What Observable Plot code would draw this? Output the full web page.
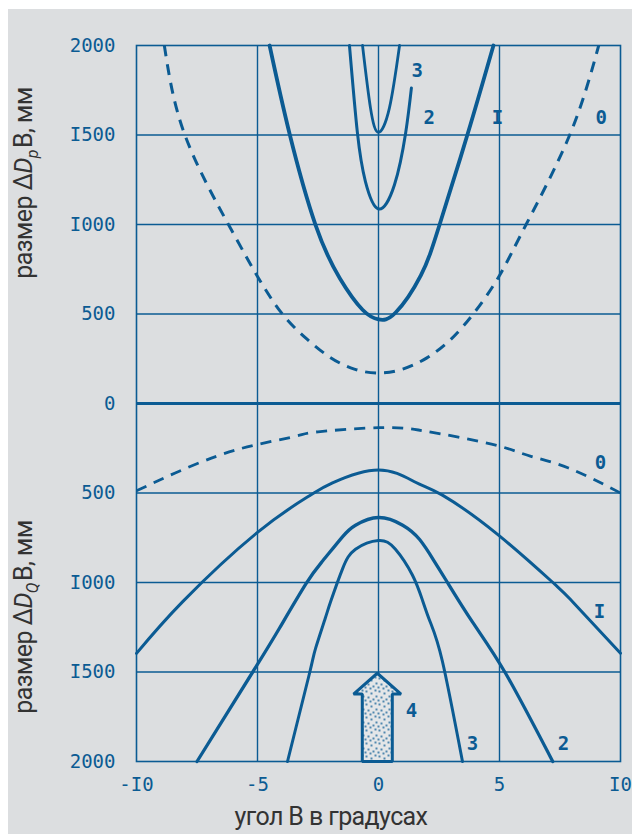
<!DOCTYPE html>
<html><head><meta charset="utf-8">
<script src="https://cdn.jsdelivr.net/npm/d3@7"></script>
<script src="https://cdn.jsdelivr.net/npm/@observablehq/plot@0.6"></script>
<style>
html,body{margin:0;padding:0;background:#fff;}
#chart{position:absolute;left:0;top:0;width:632px;height:834px;}
</style></head><body><div id="chart"></div>
<script>
// ---- ticks ----
const xTicks = [-10, -5, 0, 5, 10];
const yTicks = [-2000, -1500, -1000, -500, 0, 500, 1000, 1500, 2000];
const gridXVals = [-5, 0, 5];
const gridYVals = [-1500, -1000, -500, 500, 1000, 1500];

// ---- upper half: ΔDp (positive up) ----
const top0 = [[-8.85,2000],[-8,1500],[-6.2,1000],[-5,710],[-4,505],[-3,365],[-2,258],[-1,192],[0,170],[1,192],[2,255],[3,360],[4,515],[5,715],[6.1,1000],[7.9,1500],[9.1,2000]];
const top1 = [[-4.5,2000],[-3.68,1510],[-2.6,997],[-1.6,700],[-0.66,524],[0,470],[0.7,507],[1.75,716],[2.52,997],[3.68,1504],[4.75,2000]];
const top2 = [[-1.2,2000],[-0.87,1510],[-0.54,1240],[0,1087],[0.66,1222],[1.12,1510],[1.36,1763]];
const top3 = [[-0.66,2000],[-0.33,1650],[0,1515],[0.45,1650],[0.87,2000]];

// ---- lower half: ΔDQ (plotted downward, negative) ----
const bot0 = [[-10,-488],[-8.4,-388],[-6.7,-295],[-5.1,-232],[-3.4,-182],[-2.5,-158],[0,-135],[1.65,-148],[3.3,-188],[5.05,-240],[6.3,-295],[7.85,-360],[10,-500]];
const bot1 = [[-10,-1396],[-8.1,-1108],[-5.0,-720],[-2.85,-515],[-1.9,-443],[0,-371],[1.53,-440],[2.64,-512],[4.92,-731],[7.27,-1008],[8.0,-1105],[10,-1395]];
const bot2 = [[-7.5,-2000],[-5.1,-1479],[-4.1,-1257],[-3.0,-1008],[-2.31,-880],[-1.49,-745],[-0.95,-680],[0,-637],[1.0,-680],[1.7,-760],[2.3,-880],[2.85,-1000],[3.88,-1220],[5.25,-1507],[7.2,-2000]];
const bot3 = [[-3.76,-2000],[-2.85,-1507],[-2.6,-1368],[-2.2,-1200],[-1.98,-1108],[-1.49,-925],[-0.95,-814],[0,-765],[0.7,-814],[1.4,-958],[1.82,-1100],[2.15,-1225],[2.64,-1440],[3.47,-2000]];

// ---- curve labels ----
const labelText = ["3","2","I","0","0","I","3","2","4"];
const labelX    = [1.6, 2.1, 4.92, 9.2, 9.17, 9.13, 3.88, 7.64, 1.36];
const labelY    = [1859, 1594, 1594, 1594, -332, -1163, -1900, -1900, -1717];

// ---- arrow 4 (values in data units) ----
const arrowCenter = -0.05;
const arrowTip = -1507;
const arrowHeadBase = -1623;
const arrowBase = -2000;
const arrowShaftHalf = 0.62;
const arrowHeadHalf = 0.98;

const blue = "#0b5b93";
const toPts = a => a.map(([x, y]) => ({x, y}));
const labels = labelText.map((t, i) => ({t, x: labelX[i], y: labelY[i]}));
const arrowPoly = [
  [arrowCenter - arrowShaftHalf, arrowBase],
  [arrowCenter - arrowShaftHalf, arrowHeadBase],
  [arrowCenter - arrowHeadHalf, arrowHeadBase],
  [arrowCenter, arrowTip],
  [arrowCenter + arrowHeadHalf, arrowHeadBase],
  [arrowCenter + arrowShaftHalf, arrowHeadBase],
  [arrowCenter + arrowShaftHalf, arrowBase]
].map(([x, y]) => ({x, y}));

const fmt = d => String(Math.abs(d)).replace(/1/g, "I");
const fmtX = d => (d < 0 ? "-" : "") + String(Math.abs(d)).replace(/1/g, "I");

const lineOpts = (w, extra = {}) => ({x: "x", y: "y", stroke: blue, strokeWidth: w, curve: "natural", strokeLinecap: "round", ...extra});

const plot = Plot.plot({
  width: 632,
  height: 834,
  marginLeft: 136,
  marginRight: 12,
  marginTop: 45,
  marginBottom: 73,
  style: {background: "transparent", fontFamily: "DejaVu Sans Mono", overflow: "visible"},
  x: {domain: [-10, 10], ticks: xTicks},
  y: {domain: [-2000, 2000], ticks: yTicks},
  marks: [
    Plot.ruleX(gridXVals, {stroke: blue, strokeWidth: 1.4}),
    Plot.ruleY(gridYVals, {stroke: blue, strokeWidth: 1.4}),
    Plot.ruleY([0], {stroke: blue, strokeWidth: 3}),
    Plot.frame({stroke: blue, strokeWidth: 1.6}),
    Plot.line(toPts(top0), lineOpts(3, {strokeDasharray: "11,8", strokeLinecap: "butt"})),
    Plot.line(toPts(top1), lineOpts(3.8)),
    Plot.line(toPts(top2), lineOpts(3)),
    Plot.line(toPts(top3), lineOpts(2.8)),
    Plot.line(toPts(bot0), lineOpts(2.8, {strokeDasharray: "11,8", strokeLinecap: "butt"})),
    Plot.line(toPts(bot1), lineOpts(3)),
    Plot.line(toPts(bot2), lineOpts(3.3)),
    Plot.line(toPts(bot3), lineOpts(3)),
    Plot.line(arrowPoly, {x: "x", y: "y", curve: "linear-closed", stroke: blue, strokeWidth: 3, fill: "url(#stipple)", strokeLinejoin: "miter"}),
    Plot.text(labels, {x: "x", y: "y", text: "t", fill: blue, fontSize: 19, fontWeight: "bold", fontFamily: "DejaVu Sans Mono"}),
    Plot.axisY(yTicks, {tickSize: 0, tickPadding: 21, tickFormat: fmt, fontSize: 19, fill: blue, stroke: blue, strokeWidth: 0.6, label: null}),
    Plot.axisX(xTicks, {tickSize: 0, tickPadding: 16, tickFormat: fmtX, fontSize: 19, fill: blue, stroke: blue, strokeWidth: 0.6, label: null})
  ]
});

const svg = d3.select(plot);
// background
svg.insert("rect", ":first-child").attr("x", 8).attr("y", 9).attr("width", 624).attr("height", 825).attr("fill", "#dcdee0");
// stipple pattern
const defs = svg.insert("defs", ":first-child");
const pat = defs.append("pattern").attr("id", "stipple").attr("patternUnits", "userSpaceOnUse").attr("width", 13).attr("height", 13);
pat.append("rect").attr("width", 13).attr("height", 13).attr("fill", "#e4e6e8");
[[2,2],[7,4],[11,1],[4,8],[9,10],[1,11],[12,7],[6,12]].forEach(([cx, cy]) =>
  pat.append("circle").attr("cx", cx).attr("cy", cy).attr("r", 0.9).attr("fill", blue));

// axis titles
const titleFont = "Roboto, 'Liberation Sans', sans-serif";
function yTitle(cy, sub) {
  const t = svg.append("text")
    .attr("transform", `translate(32,${cy}) rotate(-90)`)
    .attr("text-anchor", "middle")
    .attr("letter-spacing", -0.6)
    .attr("font-family", titleFont).attr("font-size", 25).attr("fill", "#333");
  t.append("tspan").text("размер Δ");
  t.append("tspan").attr("font-style", "italic").text("D");
  t.append("tspan").attr("font-style", "italic").attr("font-size", 16).attr("dy", 6).text(sub);
  t.append("tspan").attr("dy", -6).attr("dx", 2).text("В, мм");
}
yTitle(183, "p");
yTitle(617, "Q");
svg.append("text").attr("x", 331).attr("y", 825).attr("text-anchor", "middle").attr("letter-spacing", -0.6)
  .attr("font-family", titleFont).attr("font-size", 25).attr("fill", "#333").text("угол В в градусах");

document.getElementById("chart").appendChild(plot);
</script>
</body></html>
